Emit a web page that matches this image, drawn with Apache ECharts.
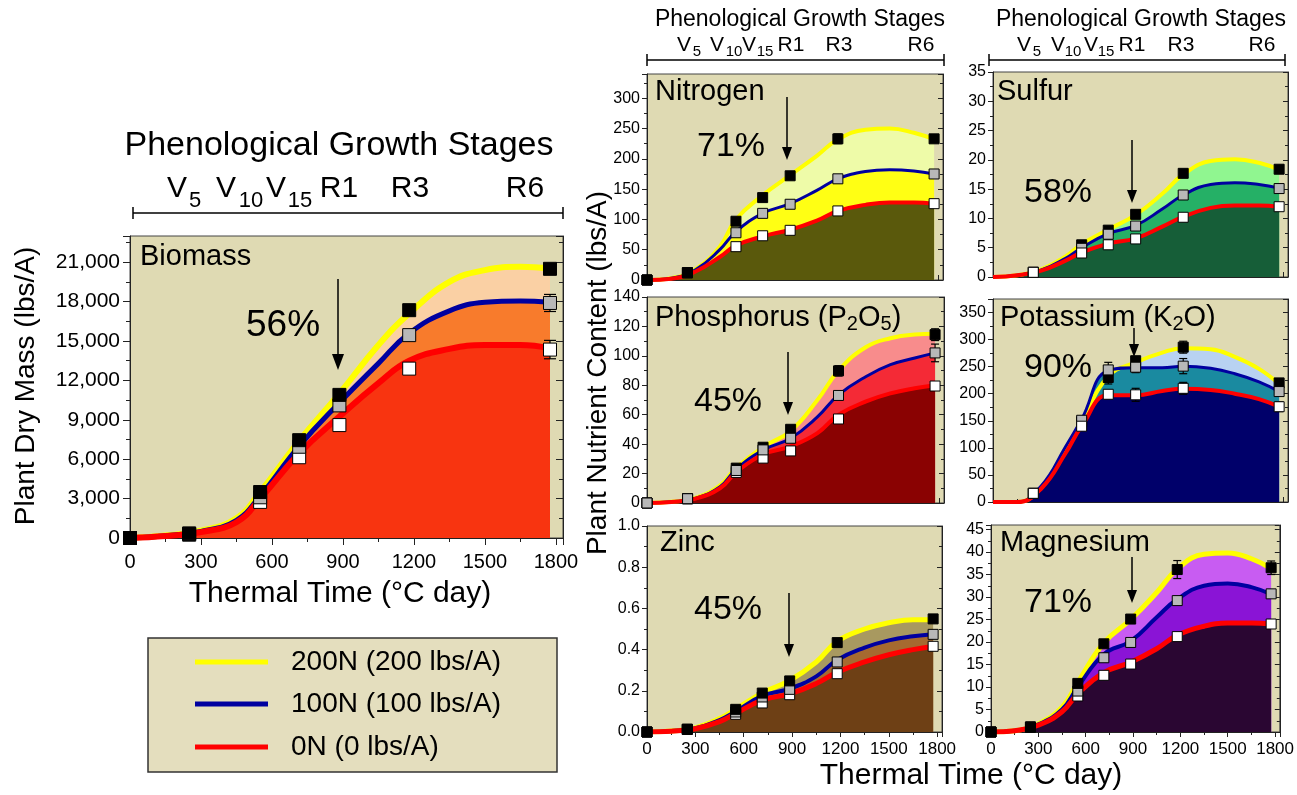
<!DOCTYPE html>
<html><head><meta charset="utf-8">
<script src="https://cdn.jsdelivr.net/npm/echarts@6/dist/echarts.min.js"></script>
<style>html,body{margin:0;padding:0;background:#fff}#c{width:1297px;height:795px}</style>
</head><body><div id="c"></div>
<script>
const FONT = "'Liberation Sans', Arial, sans-serif";

// ---------- DATA ----------
const pointTimes = [0, 250, 550, 715, 885, 1180, 1775];
const curveTimes = [0, 150, 300, 450, 550, 715, 885, 1050, 1180, 1350, 1500, 1650, 1775];
const treatments = ['200N (200 lbs/A)', '100N (100 lbs/A)', '0N (0 lbs/A)'];
const xTickLabels = [0, 300, 600, 900, 1200, 1500, 1800];

// Biomass (lbs/A)
const bPts200 = [0, 350, 3500, 7450, 10900, 17350, 20500];
const bPts100 = [0, 300, 3100, 6950, 10100, 15450, 17900];
const bPts0   = [0, 250, 2750, 6150, 8600, 12900, 14350];
const bErr100 = [0, 0, 0, 0, 0, 0, 650];
const bErr0   = [0, 0, 0, 0, 0, 0, 700];
const bFit200 = [0, 200, 550, 1500, 3500, 7400, 11000, 14700, 17100, 19500, 20400, 20650, 20500];
const bFit100 = [0, 180, 500, 1350, 3200, 7000, 10300, 13300, 15600, 17300, 17950, 18050, 17950];
const bFit0   = [0, 150, 450, 1200, 3000, 6450, 9250, 11800, 13500, 14400, 14700, 14700, 14450];

// Nitrogen
const nPts200 = [0, 12, 97, 136, 172, 233, 233];
const nPts100 = [0, 12, 78, 110, 125, 167, 175];
const nPts0   = [0, 12, 55, 73, 82, 114, 126];
const nErr200 = [0, 0, 0, 0, 0, 8, 0];
const nFit200 = [0, 3, 18, 55, 100, 140, 173, 205, 232, 248, 250, 243, 232];
const nFit100 = [0, 3, 17, 50, 80, 110, 126, 148, 167, 179, 182, 180, 175];
const nFit0   = [0, 2, 14, 38, 57, 72, 83, 98, 114, 124, 128, 128, 126];

// Sulfur
const sPts200 = [null, 0.8, 5.5, 8.0, 10.7, 17.7, 18.4];
const sPts100 = [null, 0.8, 4.9, 7.3, 8.7, 14.0, 15.1];
const sPts0   = [null, 0.8, 4.1, 5.5, 6.5, 10.2, 12.0];
const sFit200 = [0, 0.3, 1.3, 3.5, 5.6, 8.1, 10.6, 14.2, 17.5, 19.8, 20.1, 19.5, 18.3];
const sFit100 = [0, 0.3, 1.2, 3.2, 5.0, 7.4, 8.8, 11.6, 14.0, 15.8, 16.1, 15.8, 15.2];
const sFit0   = [0, 0.3, 1.1, 2.8, 4.2, 5.7, 6.6, 8.6, 10.3, 11.8, 12.2, 12.2, 12.0];

// Phosphorus (P2O5)
const pPts200 = [0, 2.9, 23.7, 37.9, 50.1, 89.8, 114.4];
const pPts100 = [0, 2.9, 22.1, 36.1, 44, 73.1, 102];
const pPts0   = [0, 2.9, 20.8, 30.5, 35.4, 57.1, 79.5];
const pErr200 = [0, 0, 0, 0, 0, 3.5, 4];
const pErr100 = [0, 0, 0, 0, 0, 0, 6];
const pFit200 = [0, 0.8, 3.5, 12, 24, 38, 49, 70, 90, 106, 112, 114.5, 115];
const pFit100 = [0, 0.8, 3.3, 11, 23, 36, 44, 58.5, 73.5, 86, 94, 98.5, 102];
const pFit0   = [0, 0.7, 3, 10, 21, 33, 38.5, 47.5, 60, 69, 74.5, 78, 80];

// Potassium (K2O)
const kPts200 = [null, 16, 148, 230, 261, 286, 220];
const kPts100 = [null, 16, 151, 244, 249, 251, 204];
const kPts0   = [null, 16, 140, 199, 198, 210, 176];
const kErr200 = [0, 0, 0, 12, 0, 11, 8];
const kErr100 = [0, 0, 0, 14, 10, 14, 0];
const kErr0   = [0, 0, 0, 0, 12, 11, 9];
const kFit200 = [0, 0, 27, 98, 148, 232, 258, 276, 284, 282, 268, 246, 218];
const kFit100 = [0, 0, 30, 102, 153, 243, 248, 248, 251, 247, 237, 222, 204];
const kFit0   = [0, 0, 25, 90, 140, 197, 197, 205, 209, 207, 200, 190, 176];

// Zinc
const zPts200 = [0, 0.013, 0.11, 0.189, 0.248, 0.434, 0.549];
const zPts100 = [0, 0.013, 0.097, 0.17, 0.207, 0.34, 0.474];
const zPts0   = [0, 0.013, 0.086, 0.141, 0.181, 0.283, 0.416];
const zFit200 = [0, 0.005, 0.02, 0.065, 0.11, 0.19, 0.25, 0.34, 0.44, 0.50, 0.53, 0.545, 0.545];
const zFit100 = [0, 0.005, 0.018, 0.058, 0.10, 0.175, 0.21, 0.27, 0.35, 0.41, 0.445, 0.465, 0.475];
const zFit0   = [0, 0.004, 0.016, 0.05, 0.09, 0.155, 0.185, 0.235, 0.29, 0.34, 0.375, 0.40, 0.415];

// Magnesium
const mPts200 = [0, 1.1, 10.8, 19.6, 25.1, 36.1, 36.5];
const mPts100 = [0, 1.1, 9.1, 16.5, 19.9, 29.2, 30.7];
const mPts0   = [0, 1.1, 8.0, 12.6, 15.1, 21.2, 24.0];
const mErr200 = [0, 0, 0, 0, 0, 2, 1.5];
const mFit200 = [0, 0.3, 1.8, 5.5, 11, 19.8, 25, 31, 36.2, 39.5, 39.8, 38.5, 36.3];
const mFit100 = [0, 0.3, 1.7, 5, 10, 17.3, 20.2, 25.5, 29.5, 32.5, 33, 32.2, 30.6];
const mFit0   = [0, 0.3, 1.5, 4.5, 8.5, 13.2, 15.5, 18.5, 21.5, 23.5, 24.2, 24.2, 24];

const panelNames = ['Biomass', 'Nitrogen', 'Sulfur', 'Phosphorus (P2O5)', 'Potassium (K2O)', 'Zinc', 'Magnesium'];
const percents = ['56%', '71%', '58%', '45%', '90%', '45%', '71%'];

// ---------- STYLE / LAYOUT ----------
const lineColors = ['#FFFF00', '#0000A0', '#FF0000'];
const markerColors = ['#000000', '#B8B8B8', '#FFFFFF'];
const BG = '#DFDAB3';
const commaFmt = v => String(Math.round(v)).replace(/\B(?=(\d{3})+(?!\d))/g, ',');

const panels = [
  {fit:[bFit200,bFit100,bFit0], pts:[bPts200,bPts100,bPts0], err:[null,bErr100,bErr0], grid:{left:130,top:236,width:433,height:302},
   yMax:23000, yInt:3000, fmt:commaFmt, fills:['#FAD0A4','#F87B2C','#F83410'], lw:[6,5,6], ms:13,
   xLab:true, xFs:20, yFs:21, xMargin:14, yMargin:10, tick:7, order:[2,1,0], cap:6},
  {fit:[nFit200,nFit100,nFit0], pts:[nPts200,nPts100,nPts0], err:[nErr200,null,null], grid:{left:647,top:74,width:296,height:206},
   yMax:340, yInt:50, fmt:v=>String(v), fills:['#EEFBA8','#FFFF14','#5A590C'], lw:[4,3,4], ms:10,
   xLab:false, xFs:17, yFs:16, xMargin:8, yMargin:7, tick:5, order:[2,1,0], cap:4},
  {fit:[sFit200,sFit100,sFit0], pts:[sPts200,sPts100,sPts0], err:[null,null,null], grid:{left:993,top:72,width:295,height:205},
   yMax:35, yInt:5, fmt:v=>String(v), fills:['#90F690','#25B066','#165E38'], lw:[4,3,4], ms:10,
   xLab:false, xFs:17, yFs:16, xMargin:8, yMargin:7, tick:5, order:[0,1,2], cap:4},
  {fit:[pFit200,pFit100,pFit0], pts:[pPts200,pPts100,pPts0], err:[pErr200,pErr100,null], grid:{left:647,top:297,width:297,height:206},
   yMax:140, yInt:20, fmt:v=>String(v), fills:['#F88C8C','#F42A36','#8A0202'], lw:[4,3,4], ms:10,
   xLab:false, xFs:17, yFs:16, xMargin:8, yMargin:7, tick:5, order:[2,0,1], cap:4},
  {fit:[kFit200,kFit100,kFit0], pts:[kPts200,kPts100,kPts0], err:[kErr200,kErr100,kErr0], grid:{left:993,top:299,width:295,height:203},
   yMax:375, yInt:50, fmt:v=>String(v), fills:['#B8D2F2','#1A8AA0','#00006A'], lw:[4,3,4], ms:10,
   xLab:false, xFs:17, yFs:16, xMargin:8, yMargin:7, tick:5, order:[0,1,2], cap:4},
  {fit:[zFit200,zFit100,zFit0], pts:[zPts200,zPts100,zPts0], err:[null,null,null], grid:{left:647,top:526,width:295,height:206},
   yMax:1.0, yInt:0.2, fmt:v=>v.toFixed(1), fills:['#A89960','#A66A30','#6E4015'], lw:[5,4,5], ms:10,
   xLab:true, xFs:17, yFs:16, xMargin:9, yMargin:7, tick:5, order:[2,1,0], cap:4},
  {fit:[mFit200,mFit100,mFit0], pts:[mPts200,mPts100,mPts0], err:[mErr200,null,null], grid:{left:991,top:525,width:295,height:207},
   yMax:46, yInt:5, fmt:v=>String(v), fills:['#C85CF2','#8A14D6','#2A0632'], lw:[5,4,5], ms:10,
   xLab:true, xFs:17, yFs:16, xMargin:9, yMargin:7, tick:5, order:[2,1,0], cap:4}
];

const isMult = (v, step) => Math.abs(v / step - Math.round(v / step)) < 1e-6;

const grids = [], xAxes = [], yAxes = [], series = [];
const axisCol = '#222';
panels.forEach((p, i) => {
  grids.push(Object.assign({show:true, backgroundColor:BG, borderColor:'#444', borderWidth:1, containLabel:false}, p.grid));
  xAxes.push({type:'value', gridIndex:i, min:0, max:1830, interval:300,
    axisLine:{show:true, onZero:false, lineStyle:{color:axisCol, width:1}},
    axisTick:{show:true, inside:!p.xLab, length:p.tick, lineStyle:{color:axisCol}},
    minorTick:{show:true, splitNumber:2, length:Math.round(p.tick*0.6), lineStyle:{color:axisCol}},
    axisLabel:{show:p.xLab, fontSize:p.xFs, fontFamily:FONT, color:'#000', margin:p.xMargin,
      formatter:v => (xTickLabels.indexOf(Math.round(v)) >= 0 ? String(Math.round(v)) : '')},
    splitLine:{show:false}, minorSplitLine:{show:false}});
  yAxes.push({type:'value', gridIndex:i, min:0, max:p.yMax, interval:p.yInt, position:'left',
    axisLine:{show:true, onZero:false, lineStyle:{color:axisCol, width:1}},
    axisTick:{show:true, inside:false, length:p.tick, lineStyle:{color:axisCol}},
    minorTick:{show:true, splitNumber:2, length:Math.round(p.tick*0.6), lineStyle:{color:axisCol}},
    axisLabel:{fontSize:p.yFs, fontFamily:FONT, color:'#000', margin:p.yMargin,
      formatter:v => (isMult(v, p.yInt) ? p.fmt(v) : '')},
    splitLine:{show:false}, minorSplitLine:{show:false}});
});
panels.forEach((p, i) => {
  yAxes.push({type:'value', gridIndex:i, min:0, max:p.yMax, interval:p.yInt, position:'right',
    axisLine:{show:true, onZero:false, lineStyle:{color:axisCol, width:1}},
    axisTick:{show:true, inside:true, length:p.tick, lineStyle:{color:axisCol}},
    minorTick:{show:true, splitNumber:2, length:Math.round(p.tick*0.6), lineStyle:{color:axisCol}},
    axisLabel:{show:false}, splitLine:{show:false}, minorSplitLine:{show:false}});
});

panels.forEach((p, i) => {
  for (let k = 0; k < 3; k++) {
    series.push({type:'line', name:treatments[k], xAxisIndex:i, yAxisIndex:i, silent:true, animation:false,
      data:curveTimes.map((t, j) => [t, p.fit[k][j]]), smooth:0.45, symbol:'none',
      lineStyle:{width:0, opacity:0}, areaStyle:{color:p.fills[k], opacity:1}, z:2});
  }
  for (let k = 0; k < 3; k++) {
    series.push({type:'line', name:treatments[k], xAxisIndex:i, yAxisIndex:i, silent:true, animation:false,
      data:curveTimes.map((t, j) => [t, p.fit[k][j]]), smooth:0.45, symbol:'none',
      lineStyle:{color:lineColors[k], width:p.lw[k]}, z:3});
  }
  // error bars
  for (let k = 0; k < 3; k++) {
    const e = p.err[k];
    if (!e) continue;
    const d = pointTimes.map((t, j) => [t, p.pts[k][j], e[j]]).filter(r => r[1] !== null && r[2] > 0);
    series.push({type:'custom', xAxisIndex:i, yAxisIndex:i, silent:true, animation:false, clip:false, z:4, data:d,
      renderItem:(params, api) => {
        const x = api.value(0), y = api.value(1), er = api.value(2);
        const t = api.coord([x, y + er]), b = api.coord([x, y - er]);
        const st = {stroke:'#000', lineWidth:1.2};
        return {type:'group', children:[
          {type:'line', shape:{x1:t[0], y1:t[1], x2:b[0], y2:b[1]}, style:st},
          {type:'line', shape:{x1:t[0] - p.cap, y1:t[1], x2:t[0] + p.cap, y2:t[1]}, style:st},
          {type:'line', shape:{x1:b[0] - p.cap, y1:b[1], x2:b[0] + p.cap, y2:b[1]}, style:st}
        ]};
      }});
  }
  p.order.forEach(k => {
    series.push({type:'scatter', name:treatments[k], xAxisIndex:i, yAxisIndex:i, silent:true, animation:false, clip:false,
      data:pointTimes.map((t, j) => [t, p.pts[k][j]]).filter(d => d[1] !== null),
      symbol:'rect', symbolSize:p.ms,
      itemStyle:{color:markerColors[k], borderColor:'#000', borderWidth:1, opacity:1}, z:5});
  });
});

// ---------- GRAPHIC ANNOTATIONS ----------
const G = [];
function txt(x, y, text, fs, align, extra) {
  G.push({type:'text', x:x, y:y, silent:true, z:100,
    style:Object.assign({text:text, fontSize:fs, fontFamily:FONT, fill:'#000', align:align || 'center', verticalAlign:'middle'}, extra || {})});
}
function seg(x1, y1, x2, y2, w) {
  G.push({type:'line', silent:true, z:100, shape:{x1:x1, y1:y1, x2:x2, y2:y2}, style:{stroke:'#000', lineWidth:w || 1.5}});
}
function arrow(x, y1, y2, hw, hh) {
  seg(x, y1, x, y2 - hh + 1, 1.5);
  G.push({type:'polygon', silent:true, z:100, shape:{points:[[x - hw, y2 - hh], [x + hw, y2 - hh], [x, y2]]}, style:{fill:'#000'}});
}
function header(h) {
  txt(h.tx, h.ty, 'Phenological Growth Stages', h.tfs);
  h.st.forEach(s => {
    txt(s[1], h.sy, s[0], h.sfs);
    if (s[2]) txt(s[3], h.suby, s[2], h.subfs);
  });
  seg(h.bx1, h.by, h.bx2, h.by, 1.5);
  seg(h.bx1, h.by - h.cap, h.bx1, h.by + h.cap, 1.5);
  seg(h.bx2, h.by - h.cap, h.bx2, h.by + h.cap, 1.5);
}
header({tx:339, ty:146, tfs:34, sy:189, sfs:30, suby:201, subfs:22, bx1:133, bx2:563, by:213, cap:6,
  st:[['V',177,'5',195], ['V',226,'10',251], ['V',276,'15',300], ['R1',339], ['R3',410], ['R6',525]]});
header({tx:800, ty:20, tfs:23, sy:45, sfs:21, suby:52, subfs:15, bx1:647, bx2:944, by:60, cap:6,
  st:[['V',684,'5',697], ['V',717,'10',734], ['V',749,'15',765], ['R1',791], ['R3',839], ['R6',921]]});
header({tx:1141, ty:20, tfs:23, sy:45, sfs:21, suby:52, subfs:15, bx1:989, bx2:1285, by:60, cap:6,
  st:[['V',1024,'5',1037], ['V',1058,'10',1073], ['V',1091,'15',1106], ['R1',1132], ['R3',1181], ['R6',1262]]});

// panel titles
txt(140, 257, panelNames[0], 29, 'left');
txt(655, 92, panelNames[1], 29, 'left');
txt(997, 92, panelNames[2], 29, 'left');
G.push({type:'text', x:655, y:318, silent:true, z:100, style:{text:'{a|Phosphorus (P}{b|2}{a|O}{b|5}{a|)}', align:'left', verticalAlign:'middle',
  rich:{a:{fontSize:29, fontFamily:FONT, fill:'#000', lineHeight:32}, b:{fontSize:20, fontFamily:FONT, fill:'#000', lineHeight:22, verticalAlign:'bottom'}}}});
G.push({type:'text', x:1000, y:318, silent:true, z:100, style:{text:'{a|Potassium (K}{b|2}{a|O)}', align:'left', verticalAlign:'middle',
  rich:{a:{fontSize:29, fontFamily:FONT, fill:'#000', lineHeight:32}, b:{fontSize:20, fontFamily:FONT, fill:'#000', lineHeight:22, verticalAlign:'bottom'}}}});
txt(660, 543, panelNames[5], 29, 'left');
txt(1000, 543, panelNames[6], 29, 'left');

// percentages & arrows
txt(283, 326, percents[0], 37);
arrow(338, 279, 370, 6, 16);
txt(731, 147, percents[1], 34);
arrow(787, 97, 160, 5, 13);
txt(1058, 193, percents[2], 34);
arrow(1132, 140, 203, 5, 13);
txt(728, 402, percents[3], 34);
arrow(788, 352, 415, 5, 13);
txt(1058, 368, percents[4], 34);
arrow(1134, 328, 357, 5, 13);
txt(728, 610, percents[5], 34);
arrow(789, 593, 657, 5, 13);
txt(1058, 603, percents[6], 34);
arrow(1132, 557, 603, 5, 13);

// axis names
G.push({type:'text', x:26, y:386, rotation:Math.PI / 2, silent:true, z:100,
  style:{text:'Plant Dry Mass (lbs/A)', fontSize:28, fontFamily:FONT, fill:'#000', align:'center', verticalAlign:'middle'}});
txt(340, 594, 'Thermal Time (°C day)', 30);
G.push({type:'text', x:598, y:373, rotation:Math.PI / 2, silent:true, z:100,
  style:{text:'Plant Nutrient Content (lbs/A)', fontSize:28, fontFamily:FONT, fill:'#000', align:'center', verticalAlign:'middle'}});
txt(971, 776, 'Thermal Time (°C day)', 30);

// legend
G.push({type:'rect', silent:true, z:90, shape:{x:148, y:638, width:409, height:134}, style:{fill:'#E4DEBE', stroke:'#333', lineWidth:1.5}});
const legY = [662, 704, 747];
treatments.forEach((t, k) => {
  G.push({type:'line', silent:true, z:100, shape:{x1:195, y1:legY[k], x2:268, y2:legY[k]}, style:{stroke:lineColors[k], lineWidth:5}});
  txt(291, legY[k], t, 28, 'left');
});

const chart = echarts.init(document.getElementById('c'), null, {renderer:'canvas'});
chart.setOption({
  animation:false,
  backgroundColor:'#ffffff',
  textStyle:{fontFamily:FONT},
  grid:grids, xAxis:xAxes, yAxis:yAxes, series:series, graphic:G
});
</script>
</body></html>
